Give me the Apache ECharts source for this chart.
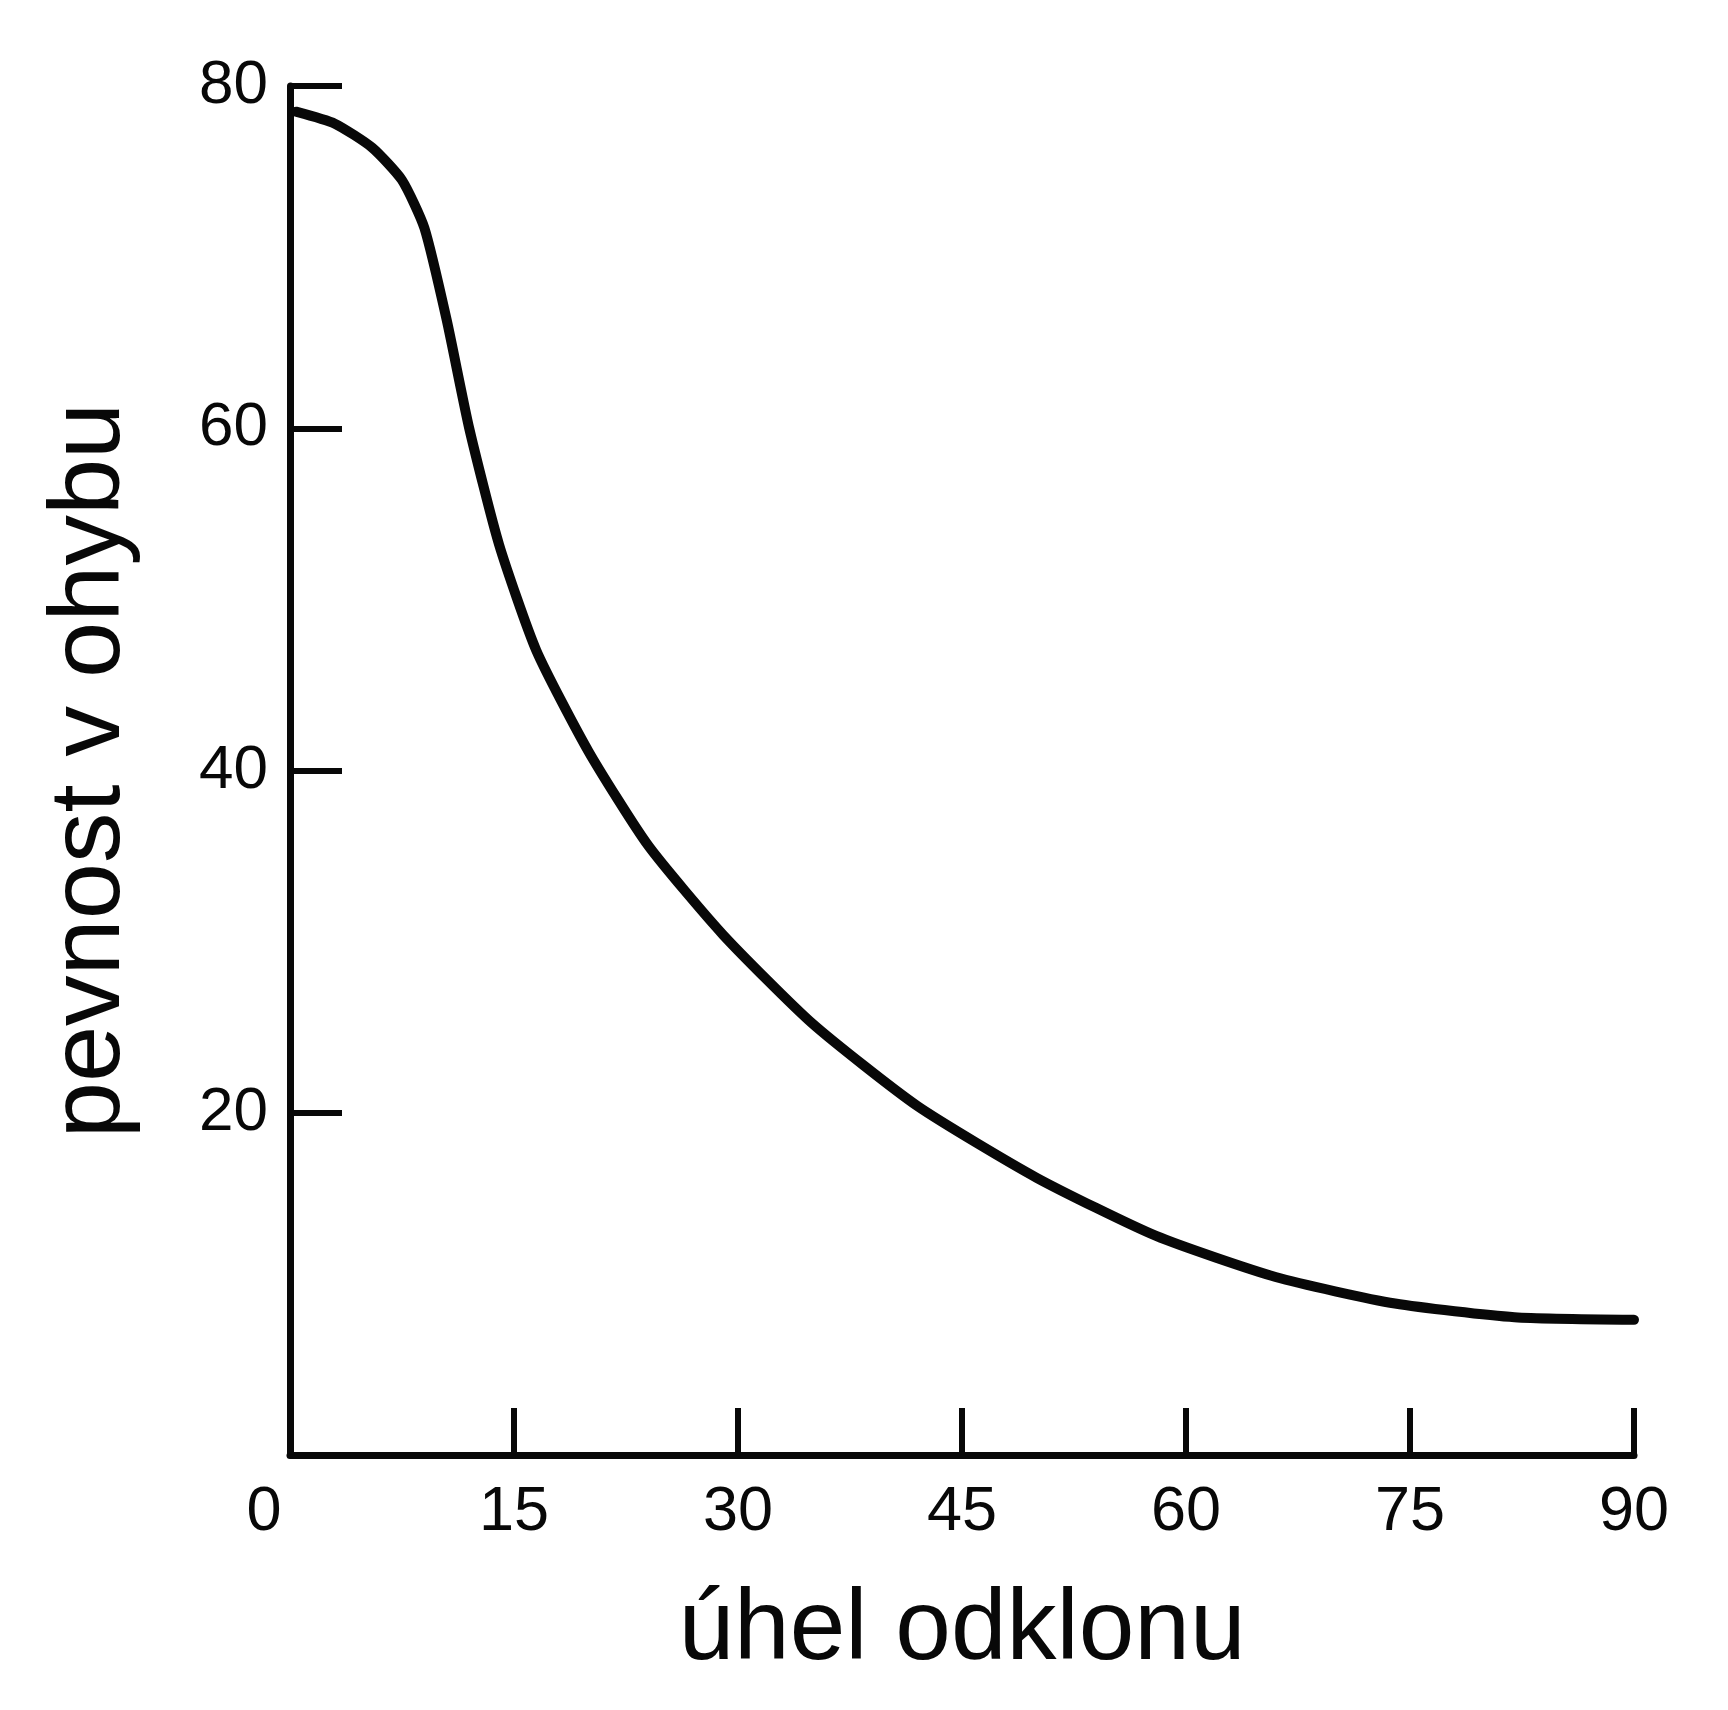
<!DOCTYPE html>
<html>
<head>
<meta charset="utf-8">
<script src="https://cdn.jsdelivr.net/npm/echarts@6/dist/echarts.min.js"></script>
<style>
html,body{margin:0;padding:0;background:#fff;}
#c{width:1728px;height:1710px;}
</style>
</head>
<body>
<div id="c"></div>
<script>
// angle of deflection (degrees)
const angles = [0.4, 3, 5.5, 7.5, 9, 10.5, 12, 14, 16.5, 20, 24, 29, 35, 42, 50, 58, 66, 74, 82, 90];
// bending strength
const strength = [78.5, 77.8, 76.4, 74.5, 71.7, 66.3, 60.0, 53.2, 47.0, 41.1, 35.6, 30.4, 25.2, 20.4, 16.2, 12.8, 10.4, 8.85, 8.05, 7.9];
const xTicks = [0, 15, 30, 45, 60, 75, 90];
const yTicks = [0, 20, 40, 60, 80];
const xTitle = 'úhel odklonu';
const yTitle = 'pevnost v ohybu';

const ink = '#080808';
const chart = echarts.init(document.getElementById('c'), null, {renderer: 'canvas'});
chart.setOption({
  backgroundColor: '#fff',
  animation: false,
  grid: {left: 290, right: 94, top: 86, bottom: 255, containLabel: false},
  xAxis: {
    type: 'value', min: xTicks[0], max: xTicks[xTicks.length - 1], interval: 15,
    splitLine: {show: false},
    axisLine: {lineStyle: {color: ink, width: 7, cap: 'round'}},
    axisTick: {inside: true, length: 47, lineStyle: {color: ink, width: 6}},
    axisLabel: {
      margin: 26, color: ink, fontFamily: 'Liberation Sans', fontSize: 63,
      formatter: v => v === 0 ? '{z|0}' : String(v),
      rich: {z: {fontFamily: 'Liberation Sans', fontSize: 63, color: ink, padding: [0, 52, 0, 0]}}
    },
    name: xTitle, nameLocation: 'middle', nameGap: 126,
    nameTextStyle: {color: ink, fontFamily: 'Liberation Sans', fontSize: 100}
  },
  yAxis: {
    type: 'value', min: yTicks[0], max: yTicks[yTicks.length - 1], interval: 20,
    splitLine: {show: false},
    axisLine: {lineStyle: {color: ink, width: 7, cap: 'round'}},
    axisTick: {inside: true, length: 52, lineStyle: {color: ink, width: 6}},
    axisLabel: {showMinLabel: false, margin: 22, color: ink, fontFamily: 'Liberation Sans', fontSize: 62},
    name: yTitle, nameLocation: 'middle', nameGap: 148,
    nameTextStyle: {color: ink, fontFamily: 'Liberation Sans', fontSize: 101}
  },
  series: [{
    type: 'line',
    data: angles.map((a, i) => [a, strength[i]]),
    smooth: 0.2,
    showSymbol: false,
    lineStyle: {color: ink, width: 10, cap: 'round', join: 'round'}
  }]
});
</script>
</body>
</html>
